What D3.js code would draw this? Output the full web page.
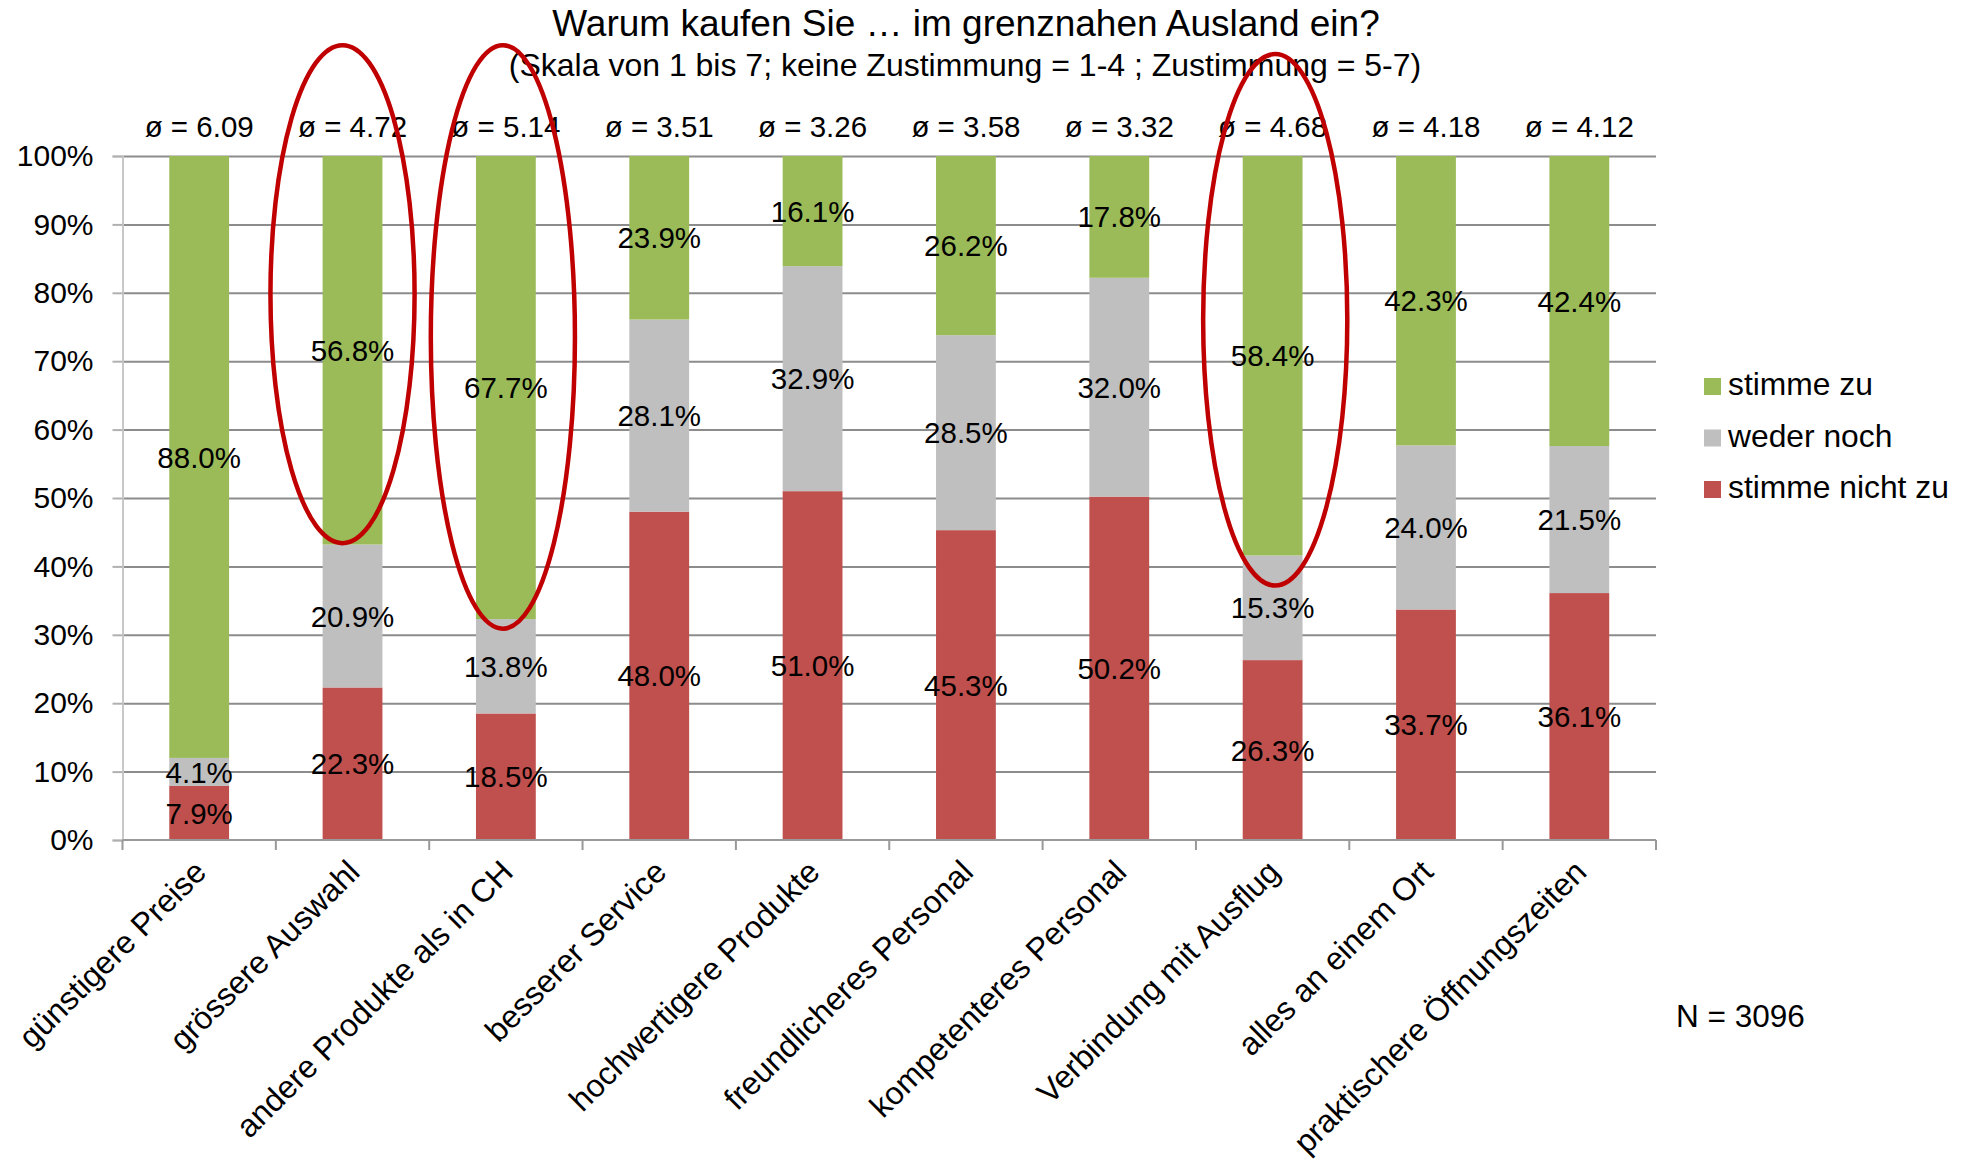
<!DOCTYPE html>
<html>
<head>
<meta charset="utf-8">
<script src="https://cdn.jsdelivr.net/npm/d3@7"></script>
<style>
  html, body { margin: 0; padding: 0; background: #fff; }
  svg { display: block; font-family: "Liberation Sans", Arial, sans-serif; }
</style>
</head>
<body>
<svg id="chart" width="1970" height="1164"></svg>
<script>
// ---------- data ----------
const categories = [
  "günstigere Preise", "grössere Auswahl", "andere Produkte als in CH", "besserer Service",
  "hochwertigere Produkte", "freundlicheres Personal", "kompetenteres Personal",
  "Verbindung mit Ausflug", "alles an einem Ort", "praktischere Öffnungszeiten"
];
const stimmeNichtZu = [7.9, 22.3, 18.5, 48.0, 51.0, 45.3, 50.2, 26.3, 33.7, 36.1];
const wederNoch     = [4.1, 20.9, 13.8, 28.1, 32.9, 28.5, 32.0, 15.3, 24.0, 21.5];
const stimmeZu      = [88.0, 56.8, 67.7, 23.9, 16.1, 26.2, 17.8, 58.4, 42.3, 42.4];
const means         = ["6.09", "4.72", "5.14", "3.51", "3.26", "3.58", "3.32", "4.68", "4.18", "4.12"];
const yTicks        = [0, 10, 20, 30, 40, 50, 60, 70, 80, 90, 100];
const seriesKeys    = ["stimme nicht zu", "weder noch", "stimme zu"];
const legendOrder   = ["stimme zu", "weder noch", "stimme nicht zu"];
const titleText     = "Warum kaufen Sie … im grenznahen Ausland ein?";
const subtitleText  = "(Skala von 1 bis 7; keine Zustimmung = 1-4 ; Zustimmung = 5-7)";
const noteText      = "N = 3096";
const highlighted   = ["grössere Auswahl", "andere Produkte als in CH", "Verbindung mit Ausflug"];

// ---------- layout / style ----------
const colors = { "stimme zu": "#9BBB59", "weder noch": "#BFBFBF", "stimme nicht zu": "#C0504D" };
const plotLeft = 122.5, plotRight = 1656, plotTop = 156, plotBottom = 840;
const FONT = 30;

const rows = categories.map((c, i) => ({
  cat: c,
  "stimme nicht zu": stimmeNichtZu[i],
  "weder noch": wederNoch[i],
  "stimme zu": stimmeZu[i],
  mean: means[i]
}));

const svg = d3.select("#chart");

const x = d3.scaleBand().domain(categories).range([plotLeft, plotRight])
  .paddingInner(0.61).paddingOuter(0.305);
const y = d3.scaleLinear().domain([0, 100]).range([plotBottom, plotTop]);

// gridlines
const grid = svg.append("g").attr("transform", `translate(${plotLeft},0)`)
  .call(d3.axisLeft(y).tickValues(yTicks.filter(d => d > 0)).tickSize(-(plotRight - plotLeft)).tickFormat(""));
grid.select(".domain").remove();
grid.selectAll("line").attr("stroke", "#8c8c8c").attr("stroke-width", 2);

// y axis
const yAxis = svg.append("g").attr("transform", `translate(${plotLeft},0)`)
  .call(d3.axisLeft(y).tickValues(yTicks).tickSize(10).tickPadding(19).tickFormat(d => d + "%"));
yAxis.select(".domain").attr("stroke", "#c8c8c8").attr("stroke-width", 2);
yAxis.selectAll("line").attr("stroke", "#b0b0b0").attr("stroke-width", 2);
yAxis.selectAll("text").attr("font-size", FONT).attr("fill", "#000")
  .attr("font-family", "Liberation Sans, Arial, sans-serif");

// stacked bars
const stack = d3.stack().keys(seriesKeys);
const series = stack(rows);
const layers = svg.append("g").selectAll("g").data(series).join("g")
  .attr("fill", d => colors[d.key]);
layers.selectAll("rect").data(d => d).join("rect")
  .attr("x", d => x(d.data.cat))
  .attr("width", x.bandwidth())
  .attr("y", d => y(d[1]))
  .attr("height", d => y(d[0]) - y(d[1]));

// x axis (line + boundary ticks)
const boundaries = categories.map(c => x(c) - (x.step() - x.bandwidth()) / 2).concat([plotRight]);
const xAxisG = svg.append("g");
xAxisG.append("line").attr("x1", plotLeft).attr("x2", plotRight).attr("y1", y(0)).attr("y2", y(0))
  .attr("stroke", "#999").attr("stroke-width", 2);
xAxisG.selectAll("line.tick").data(boundaries).join("line").attr("class", "tick")
  .attr("x1", d => d).attr("x2", d => d).attr("y1", y(0)).attr("y2", y(0) + 10)
  .attr("stroke", "#999").attr("stroke-width", 2);

// category labels
const xLab = svg.append("g").attr("transform", `translate(0,${y(0)})`)
  .call(d3.axisBottom(x).tickSize(0));
xLab.select(".domain").remove();
xLab.selectAll("text")
  .attr("font-size", 32).attr("fill", "#000")
  .attr("font-family", "Liberation Sans, Arial, sans-serif")
  .attr("x", 0).attr("y", 0).attr("dy", 0)
  .attr("text-anchor", "end")
  .attr("transform", "translate(9,34) rotate(-45)");

// data labels
const labelG = svg.append("g");
series.forEach(s => {
  labelG.append("g").selectAll("text").data(s).join("text")
    .attr("x", d => x(d.data.cat) + x.bandwidth() / 2)
    .attr("y", d => y((d[0] + d[1]) / 2))
    .attr("dy", "0.36em")
    .attr("text-anchor", "middle")
    .attr("font-size", 29.5)
    .attr("fill", "#000")
    .text(d => d.data[s.key].toFixed(1) + "%");
});

// mean labels
svg.append("g").selectAll("text").data(rows).join("text")
  .attr("x", d => x(d.cat) + x.bandwidth() / 2)
  .attr("y", 137)
  .attr("text-anchor", "middle")
  .attr("font-size", 29.5)
  .text(d => "ø = " + d.mean);

// title
svg.append("text").attr("x", 966).attr("y", 36).attr("text-anchor", "middle")
  .attr("font-size", 37).text(titleText);
svg.append("text").attr("x", 965).attr("y", 76).attr("text-anchor", "middle")
  .attr("font-size", 32).text(subtitleText);

// legend
const legend = svg.append("g").attr("transform", "translate(1704,378)");
legendOrder.forEach((k, i) => {
  const g = legend.append("g").attr("transform", `translate(0,${i * 51.5})`);
  g.append("rect").attr("width", 17).attr("height", 17).attr("fill", colors[k]);
  g.append("text").attr("x", 24).attr("y", 17).attr("font-size", 31.8).text(k);
});

// N note
svg.append("text").attr("x", 1676).attr("y", 1027).attr("font-size", 31.5).text(noteText);

// highlight ellipses (annotation)
const ellipseSpec = [
  { dx: -10, topV: 116.2, botV: 43.4 },
  { dx: -3,  topV: 116.2, botV: 30.9 },
  { dx: 2.6, topV: 114.9, botV: 37.2 }
];
svg.append("g").selectAll("ellipse").data(highlighted).join("ellipse")
  .attr("cx", (c, i) => x(c) + x.bandwidth() / 2 + ellipseSpec[i].dx)
  .attr("cy", (c, i) => (y(ellipseSpec[i].topV) + y(ellipseSpec[i].botV)) / 2)
  .attr("rx", x.step() * 0.47)
  .attr("ry", (c, i) => (y(ellipseSpec[i].botV) - y(ellipseSpec[i].topV)) / 2)
  .attr("fill", "none")
  .attr("stroke", "#C00000")
  .attr("stroke-width", 4.5);
</script>
</body>
</html>
